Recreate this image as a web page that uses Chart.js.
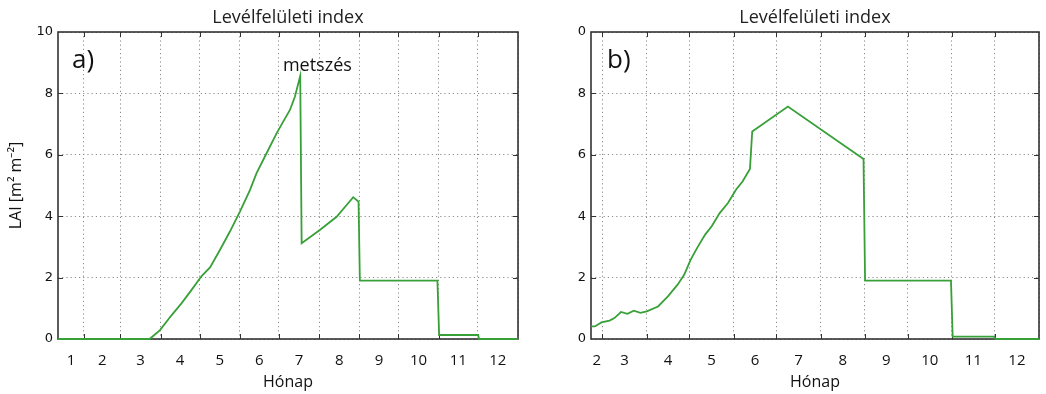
<!DOCTYPE html>
<html>
<head>
<meta charset="utf-8">
<title>Levélfelületi index</title>
<script src="https://cdn.jsdelivr.net/npm/chart.js@4.4.1/dist/chart.umd.min.js"></script>
<style>
    html, body { margin: 0; padding: 0; background: #fff; overflow: hidden; }
    .panel { position: absolute; top: 0; height: 394px; }
    #panelA { left: 0; width: 576px; }
    #panelB { left: 578px; width: 474px; }
</style>
</head>
<body>
<div class="panel" id="panelA"><canvas id="chartA"></canvas></div>
<div class="panel" id="panelB"><canvas id="chartB"></canvas></div>
<script>
// day of year where each month starts, and the month numbers shown between them
const monthStarts = [0, 31, 59, 90, 120, 151, 181, 212, 243, 273, 304, 334, 365];
const monthLabels = ['1', '2', '3', '4', '5', '6', '7', '8', '9', '10', '11', '12'];
const yTicks = [0, 2, 4, 6, 8, 10];

// a) LAI with a cut in early July
const daysA = [11, 81.5, 89.5, 98.5, 106, 113.8, 121.5, 128, 135.6, 143.3, 151, 158.7, 163.8, 171.5, 179.2,
    184.3, 189.5, 193.3, 197.4, 198.5, 212.5, 225.4, 238.2, 242.3, 243.3, 303, 304.3, 334.3, 335, 365];
const laiA = [0, 0, 0.29, 0.78, 1.16, 1.6, 2.05, 2.33, 2.9, 3.5, 4.15, 4.85, 5.4, 6.05, 6.7,
    7.08, 7.46, 7.89, 8.57, 3.12, 3.55, 3.98, 4.62, 4.47, 1.9, 1.9, 0.13, 0.13, 0, 0];

// b) LAI without the cut
const daysB = [51, 53.7, 58.3, 64, 67.4, 72, 76.5, 81, 85.6, 90.1, 98, 104.9, 111.7, 116.3, 120.8, 125.3,
    131, 135.6, 141.2, 147, 152.6, 157.2, 162.4, 164, 189, 242, 243.1, 303.3, 304.5, 333.5, 334.5, 365];
const laiB = [0.41, 0.41, 0.54, 0.6, 0.68, 0.88, 0.82, 0.92, 0.85, 0.9, 1.06, 1.39, 1.77, 2.09, 2.58, 2.96,
    3.4, 3.67, 4.1, 4.43, 4.86, 5.13, 5.54, 6.76, 7.57, 5.86, 1.9, 1.9, 0.08, 0.08, 0, 0];

// text notes placed in data coordinates
const notesA = [{ text: 'metszés', day: 210.6, lai: 8.73 }];
const notesB = [];

const LINE_COLOR = '#38a038';
const GRID_COLOR = '#8c8c8c';
const FRAME_COLOR = '#333';
const boundarySet = new Set(monthStarts);

// boundaries get a grid line, the labels sit in the middle of each visible month
function monthTicks(min, max) {
    const ticks = [];
    const labels = new Map();
    for (let i = 0; i < monthLabels.length; i++) {
        const a = Math.max(monthStarts[i], min);
        const b = Math.min(monthStarts[i + 1], max);
        if (b <= a) continue;
        if (monthStarts[i] >= min) ticks.push(monthStarts[i]);
        const mid = (a + b) / 2;
        ticks.push(mid);
        labels.set(mid, monthLabels[i]);
    }
    if (max >= 365) ticks.push(365);
    return { ticks, labels };
}

const frameAndNotes = {
    id: 'frameAndNotes',
    beforeDatasetsDraw(chart, args, opts) {
        const { ctx, chartArea: a, scales: { x, y } } = chart;
        ctx.save();
        ctx.strokeStyle = FRAME_COLOR;
        ctx.lineWidth = 1.6;
        ctx.strokeRect(a.left, a.top, a.width, a.height);
        ctx.beginPath();
        monthStarts.forEach(d => {
            if (d <= x.min || d >= x.max) return;
            const px = Math.round(x.getPixelForValue(d)) + 0.5;
            ctx.moveTo(px, a.bottom); ctx.lineTo(px, a.bottom - 5);
            ctx.moveTo(px, a.top); ctx.lineTo(px, a.top + 5);
        });
        yTicks.forEach(v => {
            if (v <= y.min || v >= y.max) return;
            const py = Math.round(y.getPixelForValue(v)) + 0.5;
            ctx.moveTo(a.left, py); ctx.lineTo(a.left + 5, py);
            ctx.moveTo(a.right, py); ctx.lineTo(a.right - 5, py);
        });
        ctx.lineWidth = 1;
        ctx.stroke();
        ctx.restore();
    },
    afterDatasetsDraw(chart, args, opts) {
        const { ctx, chartArea: a, scales: { x, y } } = chart;
        ctx.save();
        ctx.fillStyle = '#111';
        ctx.textBaseline = 'alphabetic';
        ctx.textAlign = 'left';
        ctx.font = '26px "Open Sans"';
        ctx.fillText(opts.letter, a.left + opts.letterDx, a.top + 36);
        ctx.textAlign = 'center';
        ctx.font = '18px "Open Sans"';
        opts.notes.forEach(n => {
            ctx.fillText(n.text, x.getPixelForValue(n.day), y.getPixelForValue(n.lai));
        });
        ctx.restore();
    }
};

function makeChart(canvasId, days, lai, cfg) {
    const { ticks, labels } = monthTicks(cfg.xMin, 365);
    return new Chart(document.getElementById(canvasId), {
        type: 'line',
        data: {
            datasets: [{
                data: days.map((d, i) => ({ x: d, y: lai[i] })),
                borderColor: LINE_COLOR,
                borderWidth: 1.8,
                pointRadius: 0,
                tension: 0,
                fill: false,
                clip: 3
            }]
        },
        options: {
            responsive: true,
            maintainAspectRatio: false,
            animation: false,
            events: [],
            layout: { padding: { left: 0, right: cfg.padRight, top: 0, bottom: 0 } },
            plugins: {
                legend: { display: false },
                tooltip: { enabled: false },
                title: {
                    display: true,
                    fullSize: false,
                    text: 'Levélfelületi index',
                    color: '#222',
                    font: { family: '"Open Sans"', size: 18, weight: 'normal', lineHeight: 1.2 },
                    padding: { top: 7, bottom: 3.4 }
                },
                frameAndNotes: { letter: cfg.letter, letterDx: cfg.letterDx, notes: cfg.notes }
            },
            scales: {
                x: {
                    type: 'linear',
                    min: cfg.xMin,
                    max: 365,
                    afterBuildTicks: scale => { scale.ticks = ticks.map(v => ({ value: v })); },
                    afterFit: scale => { scale.height = 55; },
                    ticks: {
                        autoSkip: false,
                        maxRotation: 0,
                        padding: 13,
                        color: '#111',
                        font: { family: '"Open Sans"', size: 15 },
                        callback: value => labels.get(value) || ''
                    },
                    grid: {
                        drawTicks: false,
                        lineWidth: 1,
                        color: ctx => (ctx.tick && boundarySet.has(ctx.tick.value)) ? GRID_COLOR : 'rgba(0,0,0,0)'
                    },
                    border: { display: false, dash: [1.2, 3] },
                    title: {
                        display: true,
                        text: 'Hónap',
                        color: '#111',
                        font: { family: '"Open Sans"', size: 16 },
                        padding: { top: 0, bottom: 2 }
                    }
                },
                y: {
                    min: 0,
                    max: 10,
                    afterBuildTicks: scale => { scale.ticks = yTicks.map(v => ({ value: v })); },
                    afterFit: scale => { scale.width = cfg.yWidth; },
                    ticks: {
                        padding: 5,
                        color: '#111',
                        font: { family: '"DejaVu Sans"', size: 13 }
                    },
                    grid: { drawTicks: false, lineWidth: 1, color: GRID_COLOR },
                    border: { display: false, dash: [1.2, 3] },
                    title: {
                        display: cfg.yTitle,
                        text: 'LAI [m² m⁻²]',
                        color: '#111',
                        font: { family: '"Open Sans"', size: 16 },
                        padding: { top: 7, bottom: 0 }
                    }
                }
            }
        },
        plugins: [frameAndNotes]
    });
}

makeChart('chartA', daysA, laiA, { xMin: 11, padRight: 58, yWidth: 58, yTitle: true, letter: 'a)', letterDx: 14, notes: notesA });
makeChart('chartB', daysB, laiB, { xMin: 51, padRight: 0, yWidth: 13, yTitle: false, letter: 'b)', letterDx: 16, notes: notesB });
</script>
</body>
</html>
